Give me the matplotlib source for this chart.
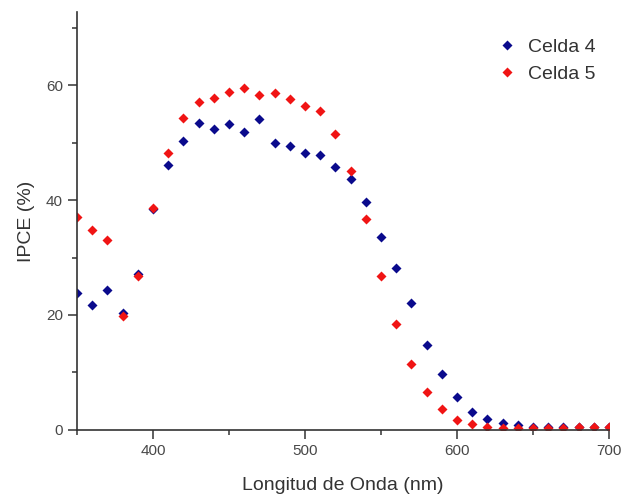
import matplotlib
matplotlib.use('Agg')
import matplotlib.pyplot as plt
from matplotlib.ticker import MultipleLocator

plt.rcParams['font.family'] = ['Liberation Sans', 'DejaVu Sans']

# longitud de onda (nm)
wavelength = list(range(350, 701, 10))

celda4 = [23.8, 21.8, 24.4, 20.3, 27.1, 38.5, 46.1, 50.3, 53.4, 52.3,
          53.2, 51.8, 54.1, 49.9, 49.4, 48.2, 47.8, 45.8, 43.6, 39.6,
          33.6, 28.1, 22.0, 14.8, 9.7, 5.8, 3.2, 1.9, 1.2, 0.9,
          0.6, 0.5, 0.5, 0.5, 0.5, 0.6]
celda5 = [37.1, 34.7, 33.0, 19.8, 26.7, 38.6, 48.1, 54.2, 57.1, 57.8,
          58.7, 59.4, 58.3, 58.6, 57.5, 56.4, 55.4, 51.5, 45.0, 36.7,
          26.8, 18.4, 11.5, 6.6, 3.6, 1.8, 1.0, 0.5, 0.4, 0.3,
          0.3, 0.4, 0.4, 0.5, 0.5, 0.6]

labels = ['Celda 4', 'Celda 5']
colors = ['#0a0a8c', '#f01414']

fig = plt.figure(figsize=(6.25, 4.96), dpi=100)
ax = fig.add_axes([0.1232, 0.1331, 0.8512, 0.8427])

ax.plot(wavelength, celda4, 'D', ms=5, color=colors[0], mec='none', label=labels[0])
ax.plot(wavelength, celda5, 'D', ms=5, color=colors[1], mec='none', label=labels[1])

ax.set_xlim(350, 700)
ax.set_ylim(0, 72.7)
ax.xaxis.set_major_locator(MultipleLocator(100))
ax.xaxis.set_minor_locator(MultipleLocator(50))
ax.yaxis.set_major_locator(MultipleLocator(20))
ax.yaxis.set_minor_locator(MultipleLocator(10))

for s in ['top', 'right']:
    ax.spines[s].set_visible(False)
for s in ['left', 'bottom']:
    ax.spines[s].set_color('#333333')
    ax.spines[s].set_linewidth(1.2)

ax.tick_params(which='major', direction='out', length=6.5, width=1.1,
               color='#333333', labelsize=11, labelcolor='#484848')
ax.tick_params(which='minor', direction='out', length=3.5, width=1.1, color='#333333')

ax.set_xlabel('Longitud de Onda (nm)', fontsize=14, color='#333333', labelpad=14)
ax.set_ylabel('IPCE (%)', fontsize=14, color='#333333', labelpad=8)

ax.legend(loc='upper left', bbox_to_anchor=(0.775, 0.955), frameon=False,
          fontsize=14, labelcolor='#333333', handlelength=1.0, handletextpad=0.6,
          labelspacing=0.45, borderaxespad=0)

fig.savefig('out.png', dpi=100)
